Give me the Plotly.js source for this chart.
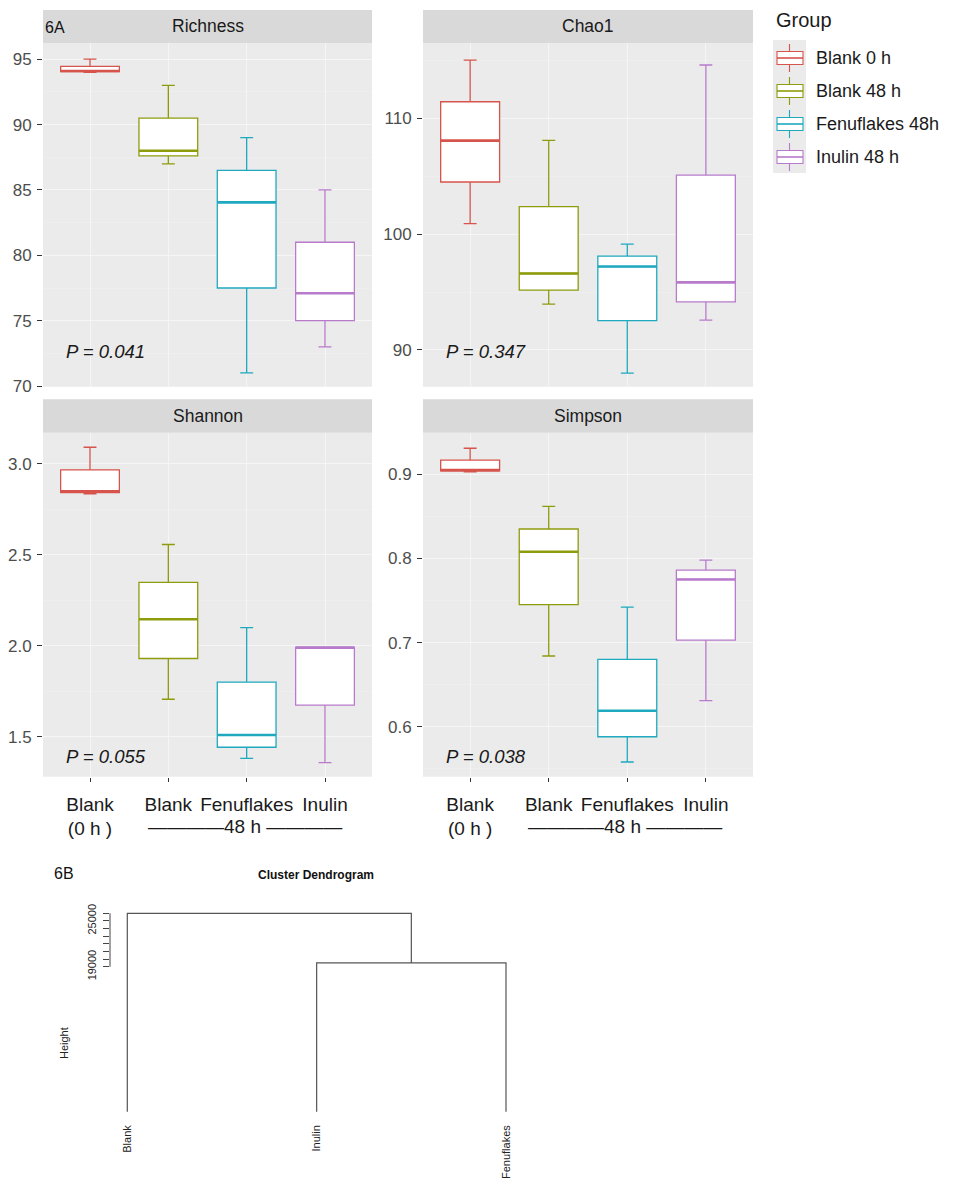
<!DOCTYPE html>
<html>
<head>
<meta charset="utf-8">
<script src="https://cdn.plot.ly/plotly-3.0.1.min.js"></script>
<style>html,body{margin:0;padding:0;background:#fff;}#chart{width:959px;height:1193px;}</style>
</head>
<body>
<div id="chart"></div>
<script>
// ---------------- DATA ----------------
const groups = ['Blank 0 h', 'Blank 48 h', 'Fenuflakes 48h', 'Inulin 48 h'];
const groupColors = ['#d6544b', '#8e9c0c', '#1fa9bf', '#b87bcb'];
const metrics = ['Richness', 'Chao1', 'Shannon', 'Simpson'];
const pValues = ['0.041', '0.347', '0.055', '0.038'];
const xTickText = ['Blank<br>(0 h )', 'Blank', 'Fenuflakes', 'Inulin'];
const xSubLabel = '————48 h ————';

const richnessLow  = [94.0, 87.0, 71.0, 73.0];
const richnessQ1   = [94.05, 87.6, 77.5, 75.0];
const richnessMed  = [94.1, 88.0, 84.05, 77.1];
const richnessQ3   = [94.45, 90.5, 86.5, 81.0];
const richnessHigh = [95.0, 93.0, 89.0, 85.0];

const chao1Low  = [100.9, 93.95, 88.0, 92.57];
const chao1Q1   = [104.5, 95.17, 92.53, 94.16];
const chao1Med  = [108.07, 96.6, 97.2, 95.84];
const chao1Q3   = [111.43, 102.37, 98.1, 105.1];
const chao1High = [115.03, 108.1, 99.14, 114.6];

const shannonLow  = [2.835, 1.706, 1.381, 1.357];
const shannonQ1   = [2.842, 1.93, 1.442, 1.674];
const shannonMed  = [2.85, 2.146, 1.509, 1.991];
const shannonQ3   = [2.967, 2.349, 1.80, 1.991];
const shannonHigh = [3.092, 2.557, 2.10, 1.991];

const simpsonLow  = [0.903, 0.684, 0.558, 0.631];
const simpsonQ1   = [0.904, 0.745, 0.588, 0.703];
const simpsonMed  = [0.905, 0.808, 0.619, 0.775];
const simpsonQ3   = [0.917, 0.835, 0.680, 0.786];
const simpsonHigh = [0.931, 0.862, 0.742, 0.798];

const richnessTicks = [70, 75, 80, 85, 90, 95];
const chao1Ticks = [90, 100, 110];
const shannonTicks = [1.5, 2.0, 2.5, 3.0];
const simpsonTicks = [0.6, 0.7, 0.8, 0.9];

// dendrogram
const leafNames = ['Blank', 'Inulin', 'Fenuflakes'];
const mergeMatrix = [[-2, -3], [-1, 1]];   // R hclust style
const mergeHeights = [19500, 26000];
const heightTicks = [19000, 20000, 21000, 22000, 23000, 24000, 25000, 26000];
const heightTickText = ['19000', '', '', '', '', '', '25000', ''];

// ---------------- LAYOUT HELPERS ----------------
const W = 959, H = 1193;
const fx = p => p / W;
const fy = p => 1 - p / H;
const FONT = 'Liberation Sans, Arial, Helvetica, sans-serif';

const stats = [
  [richnessLow, richnessQ1, richnessMed, richnessQ3, richnessHigh],
  [chao1Low, chao1Q1, chao1Med, chao1Q3, chao1High],
  [shannonLow, shannonQ1, shannonMed, shannonQ3, shannonHigh],
  [simpsonLow, simpsonQ1, simpsonMed, simpsonQ3, simpsonHigh]
];
const ticksList = [richnessTicks, chao1Ticks, shannonTicks, simpsonTicks];
const tickFormats = ['d', 'd', '.1f', '.1f'];
const minorSteps = [2.5, 5, 0.25, 0.05];

const panels = [
  {x0: 43, x1: 372, y0: 43, y1: 386.7, s0: 10, s1: 43, range: [69.95, 96.24], py: 352},
  {x0: 423, x1: 753, y0: 43, y1: 386.7, s0: 10, s1: 43, range: [86.83, 116.5], py: 352},
  {x0: 43, x1: 372, y0: 432.7, y1: 776.7, s0: 399.3, s1: 432.7, range: [1.28, 3.172], py: 756.7},
  {x0: 423, x1: 753, y0: 432.7, y1: 776.7, s0: 399.3, s1: 432.7, range: [0.5405, 0.9495], py: 756}
];

const traces = [];
const layout = {
  width: W, height: H,
  margin: {l: 0, r: 0, t: 0, b: 0, pad: 0},
  paper_bgcolor: '#ffffff',
  plot_bgcolor: 'rgba(0,0,0,0)',
  showlegend: false,
  font: {family: FONT, color: '#1a1a1a'},
  shapes: [],
  annotations: []
};

panels.forEach((p, i) => {
  const sfx = i === 0 ? '' : String(i + 1);
  const xa = 'x' + sfx, ya = 'y' + sfx;
  const bottom = i >= 2;
  layout['xaxis' + sfx] = {
    domain: [fx(p.x0), fx(p.x1)], anchor: ya,
    range: [0.4, 4.6], tickvals: [1, 2, 3, 4],
    ticktext: bottom ? xTickText : ['', '', '', ''],
    showticklabels: bottom,
    ticks: bottom ? 'outside' : '', ticklen: 4, tickcolor: '#333333', tickwidth: 1,
    tickfont: {size: 19, color: '#1a1a1a', family: FONT},
    ticklabelstandoff: 6,
    showgrid: true, gridcolor: '#f5f5f5', gridwidth: 1,
    zeroline: false, showline: false, fixedrange: true
  };
  layout['yaxis' + sfx] = {
    domain: [fy(p.y1), fy(p.y0)], anchor: xa,
    range: p.range, tickvals: ticksList[i], tickformat: tickFormats[i],
    ticks: 'outside', ticklen: 5, tickcolor: '#333333', tickwidth: 1,
    tickfont: {size: 17, color: '#4d4d4d', family: FONT},
    ticklabelstandoff: 2,
    showgrid: true, gridcolor: '#f6f6f6', gridwidth: 1,
    minor: {dtick: minorSteps[i], showgrid: true, gridcolor: '#f0f0f0', gridwidth: 0.6, ticks: ''},
    zeroline: false, showline: false, fixedrange: true
  };
  // panel background
  layout.shapes.push({type: 'rect', xref: 'paper', yref: 'paper', layer: 'below',
    x0: fx(p.x0), x1: fx(p.x1), y0: fy(p.y1), y1: fy(p.y0),
    fillcolor: '#ebebeb', line: {width: 0}});
  // strip
  layout.shapes.push({type: 'rect', xref: 'paper', yref: 'paper', layer: 'below',
    x0: fx(p.x0), x1: fx(p.x1), y0: fy(p.s1), y1: fy(p.s0),
    fillcolor: '#d9d9d9', line: {width: 0}});
  layout.annotations.push({xref: 'paper', yref: 'paper', x: fx((p.x0 + p.x1) / 2), y: fy((p.s0 + p.s1) / 2),
    text: metrics[i], showarrow: false, xanchor: 'center', yanchor: 'middle',
    font: {size: 17.5, color: '#1a1a1a', family: FONT}});
  // P value
  layout.annotations.push({xref: 'paper', yref: 'paper', x: fx(p.x0 + 21), y: fy(p.py),
    text: '<i>P = ' + pValues[i] + '</i>', showarrow: false, xanchor: 'left', yanchor: 'middle',
    font: {size: 18.5, color: '#1a1a1a', family: FONT}});
  if (bottom) {
    layout.annotations.push({xref: xa, yref: 'paper', x: 3, y: fy(826), xshift: -2,
      text: xSubLabel, showarrow: false, xanchor: 'center', yanchor: 'middle',
      font: {size: 19, color: '#1a1a1a', family: FONT}});
  }
  const st = stats[i];
  groups.forEach((g, k) => {
    traces.push({
      type: 'box', name: g, xaxis: xa, yaxis: ya,
      x: [k + 1], lowerfence: [st[0][k]], q1: [st[1][k]], median: [st[2][k]],
      q3: [st[3][k]], upperfence: [st[4][k]],
      width: 0.75, whiskerwidth: 0.22,
      fillcolor: '#ffffff', line: {color: groupColors[k], width: 1.3},
      hoverinfo: 'skip'
    });
    // thick median (ggplot fatten)
    traces.push({
      type: 'box', name: g + ' median', xaxis: xa, yaxis: ya,
      x: [k + 1], lowerfence: [st[2][k]], q1: [st[2][k]], median: [st[2][k]],
      q3: [st[2][k]], upperfence: [st[2][k]],
      width: 0.75, whiskerwidth: 0,
      fillcolor: 'rgba(0,0,0,0)', line: {color: groupColors[k], width: 2.6},
      hoverinfo: 'skip'
    });
  });
});

// ---------------- LABELS 6A / LEGEND ----------------
layout.annotations.push({xref: 'paper', yref: 'paper', x: fx(43), y: fy(27), text: '6A', showarrow: false,
  xanchor: 'left', yanchor: 'middle', font: {size: 16, color: '#111', family: FONT}});
layout.annotations.push({xref: 'paper', yref: 'paper', x: fx(774), y: fy(20), text: 'Group', showarrow: false,
  xanchor: 'left', yanchor: 'middle', font: {size: 20, color: '#1a1a1a', family: FONT}});
layout.shapes.push({type: 'rect', xref: 'paper', yref: 'paper', x0: fx(773), x1: fx(806), y0: fy(173), y1: fy(40),
  fillcolor: '#ebebeb', line: {width: 0}, layer: 'below'});
groups.forEach((g, k) => {
  const c = 58 + 33 * k, col = groupColors[k];
  const ln = {color: col, width: 1.1};
  layout.shapes.push({type: 'line', xref: 'paper', yref: 'paper', x0: fx(789.5), x1: fx(789.5), y0: fy(c - 14), y1: fy(c + 14), line: ln});
  layout.shapes.push({type: 'rect', xref: 'paper', yref: 'paper', x0: fx(777), x1: fx(803), y0: fy(c + 6.5), y1: fy(c - 6.5), fillcolor: '#ffffff', line: ln});
  layout.shapes.push({type: 'line', xref: 'paper', yref: 'paper', x0: fx(777), x1: fx(803), y0: fy(c), y1: fy(c), line: {color: col, width: 1.6}});
  layout.annotations.push({xref: 'paper', yref: 'paper', x: fx(814), y: fy(c), text: g, showarrow: false,
    xanchor: 'left', yanchor: 'middle', font: {size: 18, color: '#1a1a1a', family: FONT}});
});

// ---------------- DENDROGRAM ----------------
const dx0 = 110, dx1 = 524, dy0 = 905, dy1 = 1115;
const leafPx = [127.3, 506];               // pixel of leaf 1 and leaf 3 (for range calc)
const unitPx = (leafPx[1] - leafPx[0]) / 2;
const zeroPx = 1111.7, perUnit = (1111.7 - 913.3) / 26000;
layout.xaxis5 = {
  domain: [fx(dx0), fx(dx1)], anchor: 'y5',
  range: [1 - (leafPx[0] - dx0) / unitPx, 3 + (dx1 - leafPx[1]) / unitPx],
  tickvals: [1, 2, 3], ticktext: leafNames, tickangle: -90,
  ticks: '', ticklabelstandoff: 7,
  tickfont: {size: 11, color: '#222', family: FONT},
  showgrid: false, zeroline: false, showline: false, fixedrange: true
};
layout.yaxis5 = {
  domain: [fy(dy1), fy(dy0)], anchor: 'x5',
  range: [(zeroPx - dy1) / perUnit, (zeroPx - dy0) / perUnit],
  tickvals: heightTicks, ticktext: heightTickText, tickangle: -90,
  ticks: 'outside', ticklen: 6, tickcolor: '#444', tickwidth: 1,
  tickfont: {size: 11, color: '#222', family: FONT}, ticklabelstandoff: 3,
  showgrid: false, zeroline: false, showline: false, fixedrange: true
};
layout.shapes.push({type: 'line', xref: 'paper', yref: 'y5', x0: fx(dx0), x1: fx(dx0),
  y0: heightTicks[0], y1: heightTicks[heightTicks.length - 1], line: {color: '#444', width: 1}});

// build dendrogram segments from merge matrix
const nodePos = [];   // x, h of merged clusters
function childXY(id) {
  if (id < 0) return [-id, 0];
  return nodePos[id - 1];
}
mergeMatrix.forEach((m, j) => {
  const a = childXY(m[0]), b = childXY(m[1]), hh = mergeHeights[j];
  traces.push({
    type: 'scatter', mode: 'lines', xaxis: 'x5', yaxis: 'y5',
    x: [a[0], a[0], b[0], b[0]], y: [a[1], hh, hh, b[1]],
    line: {color: '#555', width: 1.2}, hoverinfo: 'skip', showlegend: false
  });
  nodePos.push([(a[0] + b[0]) / 2, hh]);
});

layout.annotations.push({xref: 'paper', yref: 'paper', x: fx(52), y: fy(873), text: '6B', showarrow: false,
  xanchor: 'left', yanchor: 'middle', font: {size: 16, color: '#111', family: FONT}});
layout.annotations.push({xref: 'paper', yref: 'paper', x: fx(316), y: fy(875), text: '<b>Cluster Dendrogram</b>', showarrow: false,
  xanchor: 'center', yanchor: 'middle', font: {size: 12, color: '#111', family: FONT}});
layout.annotations.push({xref: 'paper', yref: 'paper', x: fx(64), y: fy(1043), text: 'Height', showarrow: false,
  textangle: -90, xanchor: 'center', yanchor: 'middle', font: {size: 11, color: '#222', family: FONT}});

Plotly.newPlot('chart', traces, layout, {staticPlot: true, displayModeBar: false});
</script>
</body>
</html>
